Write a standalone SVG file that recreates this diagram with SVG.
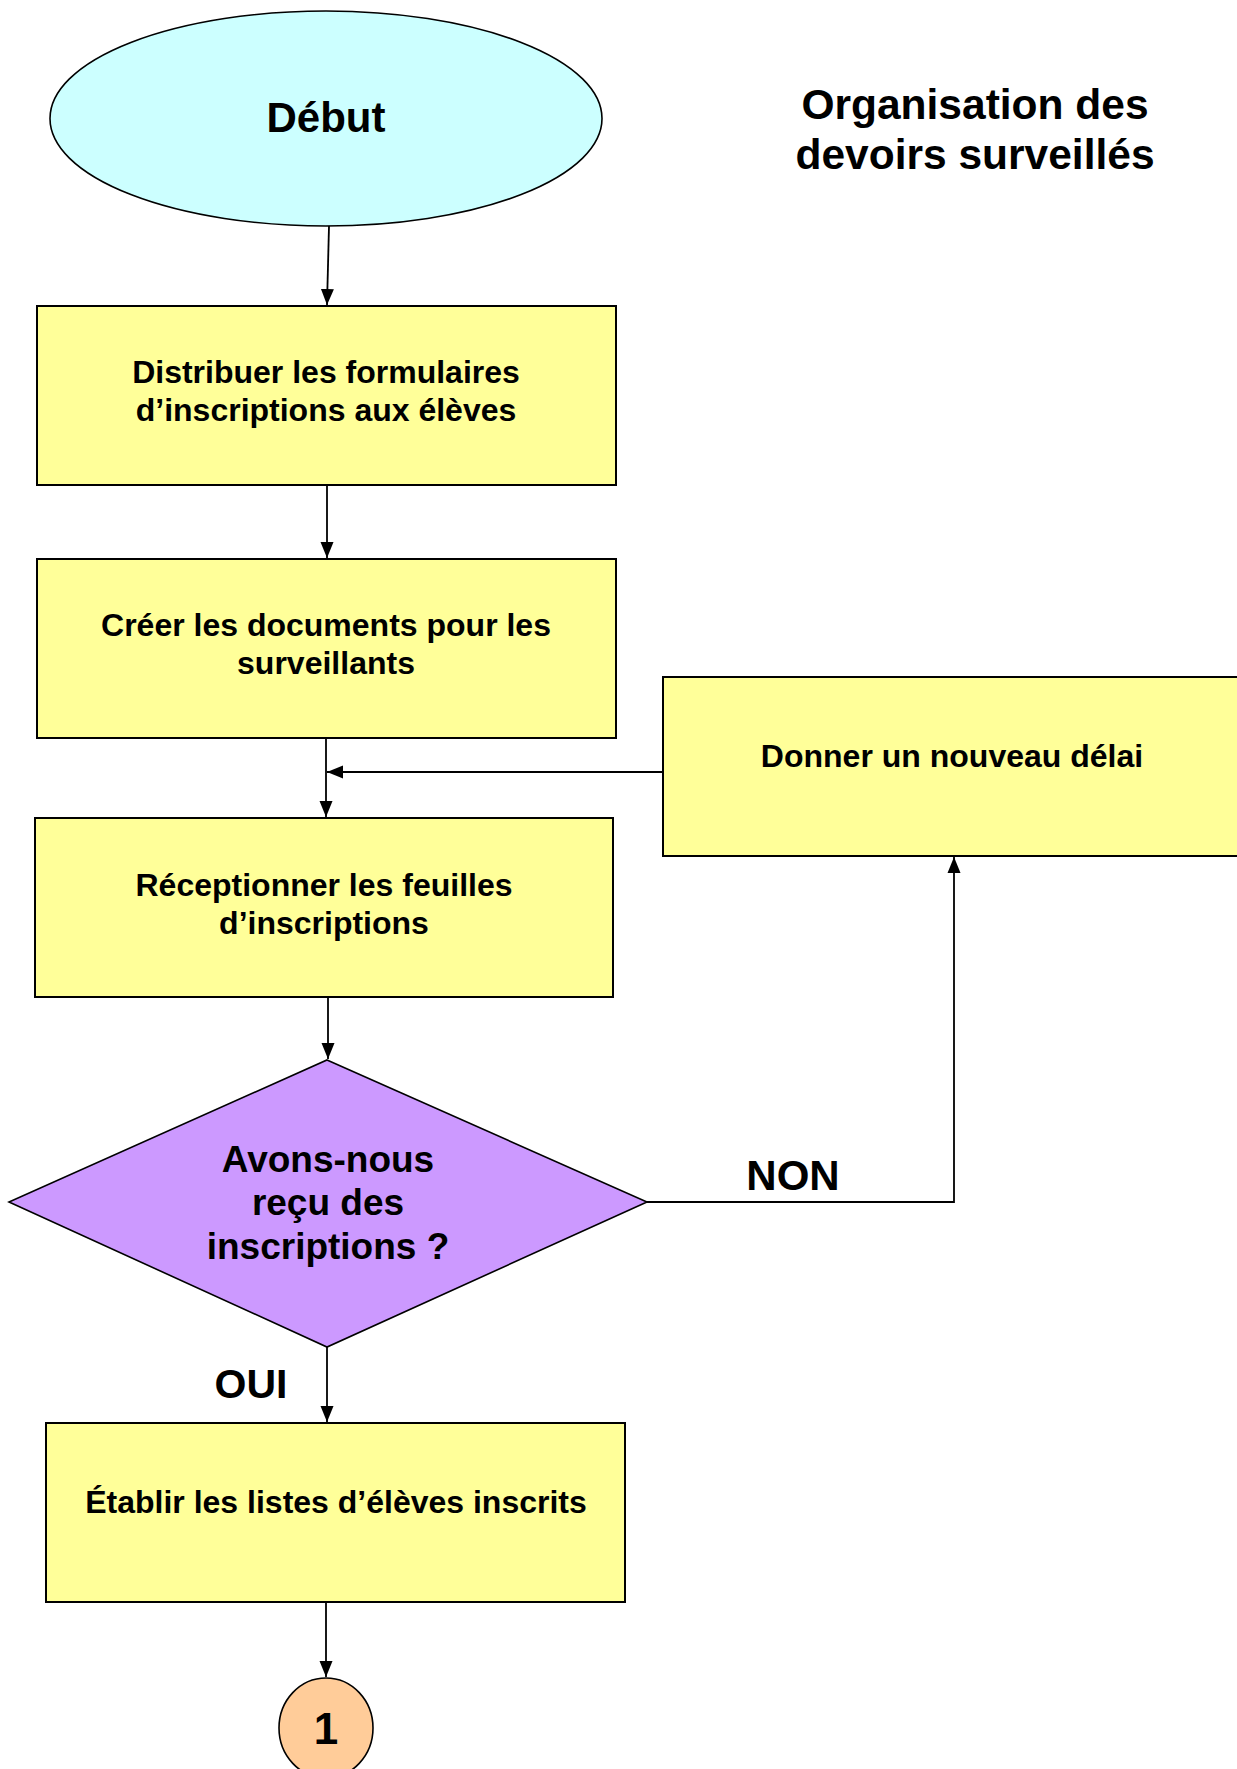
<svg xmlns="http://www.w3.org/2000/svg" width="1237" height="1769" viewBox="0 0 1237 1769">
<style>
  .t{font-family:"Liberation Sans",Arial,Helvetica,sans-serif;font-weight:bold;fill:#000;text-anchor:middle}
  .box{fill:#FFFF99;stroke:#000;stroke-width:2}
  .c{fill:none;stroke:#000;stroke-width:1.8}
  .s32{font-size:32px}
</style>
<defs>
  <marker id="ah" markerUnits="userSpaceOnUse" markerWidth="16" markerHeight="16" viewBox="0 0 16 16" refX="16" refY="8" orient="auto">
    <path d="M0,1.5 L16,8 L0,14.5 Z" fill="#000"/>
  </marker>
</defs>
<rect width="1237" height="1769" fill="#fff"/>

<g id="title">
  <text class="t" x="975" y="119" font-size="42.5">Organisation des</text>
  <text class="t" x="975" y="169" font-size="42.5">devoirs surveillés</text>
</g>

<g id="connectors">
  <path class="c" d="M329,226 L327,305" marker-end="url(#ah)"/>
  <path class="c" d="M327,485 L327,558" marker-end="url(#ah)"/>
  <path class="c" d="M326,738 L326,817" marker-end="url(#ah)"/>
  <path class="c" d="M663,772 L327,772" marker-end="url(#ah)"/>
  <path class="c" d="M328,997 L328,1059" marker-end="url(#ah)"/>
  <path class="c" d="M647,1202 L954,1202 L954,857" marker-end="url(#ah)"/>
  <path class="c" d="M327,1347 L327,1422" marker-end="url(#ah)"/>
  <path class="c" d="M326,1602 L326,1677" marker-end="url(#ah)"/>
</g>

<g id="debut">
  <ellipse cx="326" cy="118.5" rx="276" ry="107.5" fill="#CCFFFF" stroke="#000" stroke-width="1.6"/>
  <text class="t" x="326" y="132" font-size="42">Début</text>
</g>

<g id="distribuer">
  <rect class="box" x="37" y="306" width="579" height="179"/>
  <text class="t s32" x="326" y="383">Distribuer les formulaires</text>
  <text class="t s32" x="326" y="421">d’inscriptions aux élèves</text>
</g>

<g id="creer">
  <rect class="box" x="37" y="559" width="579" height="179"/>
  <text class="t s32" x="326" y="636">Créer les documents pour les</text>
  <text class="t s32" x="326" y="674">surveillants</text>
</g>

<g id="receptionner">
  <rect class="box" x="35" y="818" width="578" height="179"/>
  <text class="t s32" x="324" y="896">Réceptionner les feuilles</text>
  <text class="t s32" x="324" y="934">d’inscriptions</text>
</g>

<g id="donner">
  <rect class="box" x="663" y="677" width="590" height="179"/>
  <text class="t s32" x="952" y="767">Donner un nouveau délai</text>
</g>

<g id="decision">
  <polygon points="327,1060 647,1202 327,1347 9,1202" fill="#CC99FF" stroke="#000" stroke-width="1.6"/>
  <text class="t" x="328" y="1172" font-size="37">Avons-nous</text>
  <text class="t" x="328" y="1215" font-size="37">reçu des</text>
  <text class="t" x="328" y="1259" font-size="37">inscriptions ?</text>
</g>

<g id="labels">
  <text class="t" x="793" y="1190" font-size="42">NON</text>
  <text class="t" x="251" y="1398" font-size="41">OUI</text>
</g>

<g id="etablir">
  <rect class="box" x="46" y="1423" width="579" height="179"/>
  <text class="t s32" x="336" y="1513">Établir les listes d’élèves inscrits</text>
</g>

<g id="connector1">
  <ellipse cx="326" cy="1728" rx="47" ry="50" fill="#FFCC99" stroke="#000" stroke-width="1.6"/>
  <text class="t" x="326" y="1744" font-size="44">1</text>
</g>
</svg>
